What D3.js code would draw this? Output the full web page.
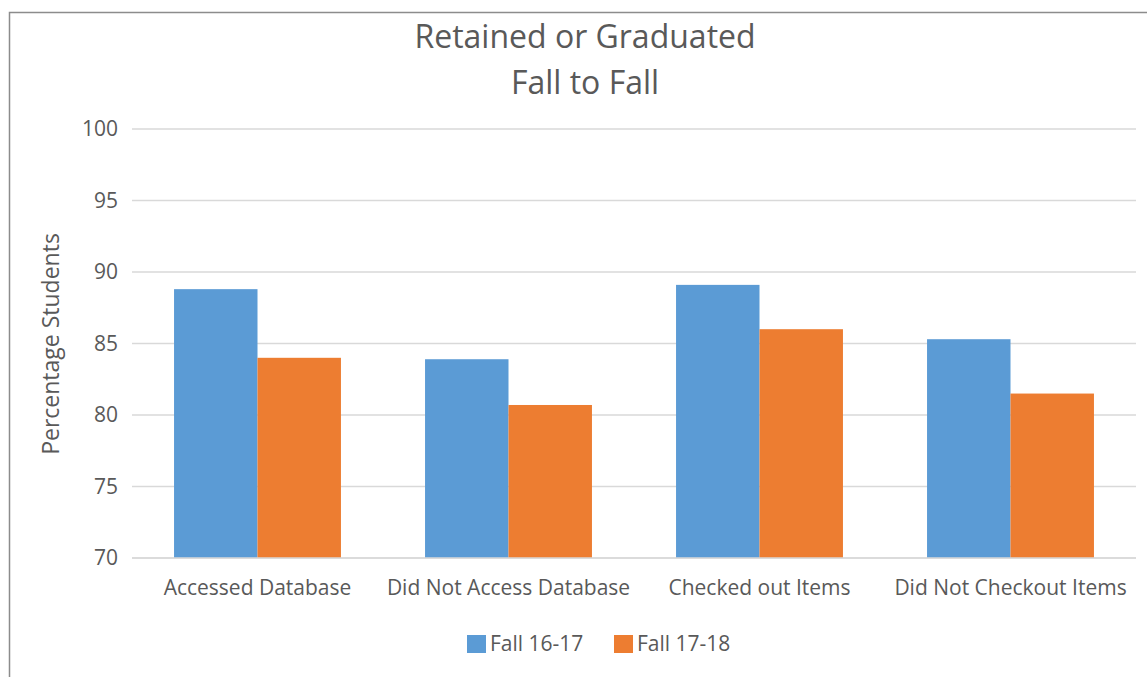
<!DOCTYPE html>
<html>
<head>
<meta charset="utf-8">
<script src="https://cdn.jsdelivr.net/npm/d3@7"></script>
<style>
  html, body { margin: 0; padding: 0; background: #fff; }
  svg { display: block; }
  text { font-family: "Open Sans", "Noto Sans", sans-serif; fill: #595959; }
</style>
</head>
<body>
<svg id="chart" width="1147" height="677"></svg>
<script>
// Retention data by library use group
const categories = ["Accessed Database", "Did Not Access Database", "Checked out Items", "Did Not Checkout Items"];
const seriesNames = ["Fall 16-17", "Fall 17-18"];
const fall1617 = [88.8, 83.9, 89.1, 85.3];
const fall1718 = [84.0, 80.7, 86.0, 81.5];
const yTicks = [70, 75, 80, 85, 90, 95, 100];
const titleLines = ["Retained or Graduated", "Fall to Fall"];
const yLabel = "Percentage Students";
const colors = ["#5B9BD5", "#ED7D31"];

const svg = d3.select("#chart");
const W = 1147, H = 677;
const margin = { left: 132, right: 1147 - 1136, top: 129, bottom: 677 - 558 };
const FONT = '"Open Sans", "Noto Sans", sans-serif';

// outer chart border
svg.append("rect")
  .attr("x", 9.5).attr("y", 12.5)
  .attr("width", W + 20).attr("height", H + 20)
  .attr("fill", "#fff").attr("stroke", "#8c8c8c").attr("stroke-width", 1.5);

const x0 = d3.scaleBand()
  .domain(categories)
  .range([margin.left, W - margin.right])
  .paddingInner(0.335)
  .paddingOuter(0.1675);

const x1 = d3.scaleBand()
  .domain(seriesNames)
  .range([0, x0.bandwidth()]);

const y = d3.scaleLinear()
  .domain([70, 100])
  .range([H - margin.bottom, margin.top]);

// horizontal gridlines
svg.append("g")
  .selectAll("line")
  .data(yTicks)
  .join("line")
  .attr("x1", margin.left).attr("x2", W - margin.right)
  .attr("y1", d => y(d)).attr("y2", d => y(d))
  .attr("stroke", "#d9d9d9").attr("stroke-width", 1.3);

// y tick labels
const yAxis = d3.axisLeft(y).tickValues(yTicks).tickSize(0).tickPadding(14);
const yg = svg.append("g")
  .attr("transform", `translate(${margin.left},0)`)
  .call(yAxis);
yg.select(".domain").remove();
yg.selectAll("text")
  .style("font-family", FONT)
  .style("font-size", "21px").attr("fill", "#595959");

// bars
const rows = categories.map((c, i) => ({ c, vals: [fall1617[i], fall1718[i]] }));
svg.append("g")
  .selectAll("g")
  .data(rows)
  .join("g")
  .attr("transform", d => `translate(${x0(d.c)},0)`)
  .selectAll("rect")
  .data(d => d.vals.map((v, j) => ({ name: seriesNames[j], v, j })))
  .join("rect")
  .attr("x", d => x1(d.name))
  .attr("width", x1.bandwidth())
  .attr("y", d => y(d.v))
  .attr("height", d => y(70) - y(d.v))
  .attr("fill", d => colors[d.j]);

// baseline
svg.append("line")
  .attr("x1", margin.left).attr("x2", W - margin.right)
  .attr("y1", y(70)).attr("y2", y(70))
  .attr("stroke", "#d9d9d9").attr("stroke-width", 1.3);

// category labels
const xAxis = d3.axisBottom(x0).tickSize(0).tickPadding(22);
const xg = svg.append("g")
  .attr("transform", `translate(0,${y(70)})`)
  .call(xAxis);
xg.select(".domain").remove();
xg.selectAll("text")
  .style("font-family", FONT)
  .style("font-size", "21px").attr("fill", "#595959");

// title
svg.append("g")
  .selectAll("text")
  .data(titleLines)
  .join("text")
  .attr("x", 585)
  .attr("y", (d, i) => 48 + i * 46)
  .attr("text-anchor", "middle")
  .style("font-size", "32px")
  .text(d => d);

// y axis title
svg.append("text")
  .attr("transform", "translate(59,344) rotate(-90)")
  .attr("text-anchor", "middle")
  .style("font-size", "23px")
  .text(yLabel);

// legend
const legend = svg.append("g");
const legendX = [467, 614];
seriesNames.forEach((name, i) => {
  legend.append("rect")
    .attr("x", legendX[i]).attr("y", 635)
    .attr("width", 19).attr("height", 18)
    .attr("fill", colors[i]);
  legend.append("text")
    .attr("x", legendX[i] + 23).attr("y", 651)
    .style("font-size", "21px")
    .text(name);
});
</script>
</body>
</html>
